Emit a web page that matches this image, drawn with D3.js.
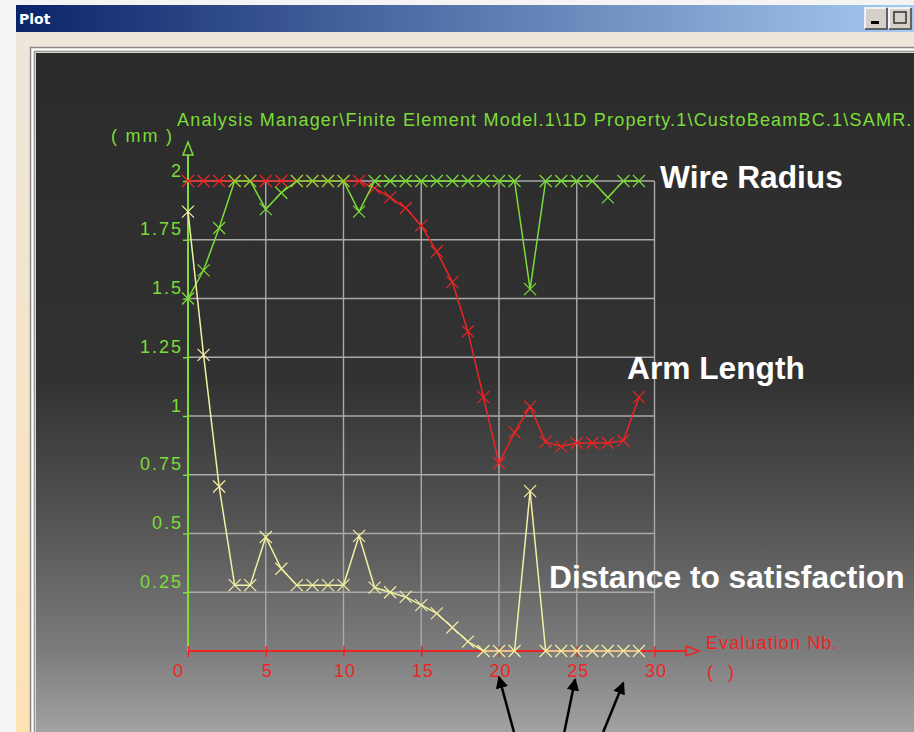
<!DOCTYPE html>
<html>
<head>
<meta charset="utf-8">
<script src="https://cdn.jsdelivr.net/npm/d3@7"></script>
<style>
  html, body { margin: 0; padding: 0; background: #f4f4f4; overflow: hidden; }
  svg { display: block; }
</style>
</head>
<body>
<svg id="chart" width="914" height="732"></svg>
<script>
// Optimisation history: one value per evaluation
const evaluations = d3.range(0, 30);
const wireRadius = [1.5, 1.62, 1.80, 2, 2, 1.88, 1.95, 2, 2, 2,
                    2, 1.87, 2, 2, 2, 2, 2, 2, 2, 2,
                    2, 2, 1.54, 2, 2, 2, 2, 1.93, 2, 2];
const armLength = [2, 2, 2, 2, 2, 2, 2, 2, 2, 2,
                   2, 2, 1.97, 1.93, 1.885, 1.81, 1.70, 1.57, 1.36, 1.08,
                   0.80, 0.93, 1.04, 0.89, 0.87, 0.885, 0.885, 0.885, 0.895, 1.08];
const distanceToSatisfaction = [1.87, 1.26, 0.70, 0.28, 0.28, 0.485, 0.35, 0.28, 0.28, 0.28,
                                0.28, 0.49, 0.27, 0.25, 0.23, 0.195, 0.16, 0.10, 0.04, 0,
                                0, 0, 0.68, 0, 0, 0, 0, 0, 0, 0];
const xTicks = [0, 5, 10, 15, 20, 25, 30];
const yTicks = [0.25, 0.5, 0.75, 1, 1.25, 1.5, 1.75, 2];
const yTickLabels = ["0.25", "0.5", "0.75", "1", "1.25", "1.5", "1.75", "2"];
const seriesNames = ["Wire Radius", "Arm Length", "Distance to satisfaction"];
const windowTitle = "Plot";
const curvePath = "Analysis Manager\\Finite Element Model.1\\1D Property.1\\CustoBeamBC.1\\SAMR.";
const yUnit = "( mm )";
const xName = "Evaluation Nb.";
const xUnit = "( )";
// pointers below the axis, in data units: [tipX, tipY, tailX, tailY]
const pointers = [[20, -0.11, 20.96, -0.345], [24.9, -0.12, 24.2, -0.345], [28.0, -0.135, 26.7, -0.345]];

const svg = d3.select("#chart");
const W = 914, H = 732;
const defs = svg.append("defs");

// ---------- window frame ----------
const tb = defs.append("linearGradient").attr("id", "titlebar");
tb.append("stop").attr("offset", "0%").attr("stop-color", "#0a246a");
tb.append("stop").attr("offset", "100%").attr("stop-color", "#a6caf0");

const side = defs.append("linearGradient").attr("id", "sidefill").attr("x1", 0).attr("y1", 0).attr("x2", 0).attr("y2", 1);
side.append("stop").attr("offset", "0%").attr("stop-color", "#ece6dc");
side.append("stop").attr("offset", "100%").attr("stop-color", "#fde2b4");

const bg = defs.append("linearGradient").attr("id", "plotbg").attr("x1", 0).attr("y1", 0).attr("x2", 0).attr("y2", 1);
[[0, "#2b2b2b"], [0.48, "#323232"], [0.68, "#525252"], [0.88, "#7c7c7c"], [1, "#a2a2a2"]]
  .forEach(([o, c]) => bg.append("stop").attr("offset", o).attr("stop-color", c));

svg.append("rect").attr("x", 0).attr("y", 0).attr("width", W).attr("height", H).attr("fill", "#f4f4f4");
svg.append("rect").attr("x", 16).attr("y", 32).attr("width", W - 16).attr("height", H - 32).attr("fill", "url(#sidefill)");
svg.append("rect").attr("x", 16).attr("y", 5).attr("width", W - 16).attr("height", 27).attr("fill", "url(#titlebar)");
svg.append("text").attr("x", 19).attr("y", 24).text(windowTitle)
  .attr("fill", "#ffffff").attr("font-family", "Tahoma, 'DejaVu Sans', sans-serif")
  .attr("font-weight", "bold").attr("font-size", 14);

// title bar buttons
function winButton(x, kind) {
  const g = svg.append("g").attr("transform", `translate(${x},8)`);
  g.append("rect").attr("width", 22).attr("height", 21).attr("fill", "#d4d0c8");
  g.append("path").attr("d", "M0,21V0H22").attr("fill", "none").attr("stroke", "#ffffff").attr("stroke-width", 1.5);
  g.append("path").attr("d", "M0,21H22V0").attr("fill", "none").attr("stroke", "#404040").attr("stroke-width", 1.5);
  if (kind === "min") g.append("rect").attr("x", 6).attr("y", 13).attr("width", 8).attr("height", 3).attr("fill", "#000");
  else g.append("rect").attr("x", 5).attr("y", 4).attr("width", 12).attr("height", 11).attr("fill", "none").attr("stroke", "#303030").attr("stroke-width", 1.5);
}
winButton(865, "min");
winButton(889, "max");

// sunken panel border
svg.append("rect").attr("x", 30.5).attr("y", 47.5).attr("width", W).attr("height", H).attr("fill", "none").attr("stroke", "#8a8a8a").attr("stroke-width", 1.5);
svg.append("rect").attr("x", 32.5).attr("y", 49.5).attr("width", W).attr("height", H).attr("fill", "none").attr("stroke", "#ffffff").attr("stroke-width", 1.5);
svg.append("rect").attr("x", 34.5).attr("y", 51.5).attr("width", W).attr("height", H).attr("fill", "none").attr("stroke", "#9a9a9a").attr("stroke-width", 1.5);
svg.append("rect").attr("x", 36).attr("y", 53).attr("width", W - 36).attr("height", H - 53).attr("fill", "url(#plotbg)");

// ---------- chart ----------
const x = d3.scaleLinear().domain([0, 30]).range([188, 654.5]);
const y = d3.scaleLinear().domain([0, 2]).range([651, 181]);

const green = "#7cdc38", red = "#ee2424", yellow = "#f2f0a2", grid = "#aaaaaa";
const axisFont = "'Liberation Sans', Arial, sans-serif";

const plot = svg.append("g");

// grid
plot.append("g").selectAll("line").data(yTicks).join("line")
  .attr("x1", x(0)).attr("x2", x(30))
  .attr("y1", d => y(d)).attr("y2", d => y(d))
  .attr("stroke", grid).attr("stroke-width", 1.4);
plot.append("g").selectAll("line").data(xTicks.filter(d => d > 0)).join("line")
  .attr("x1", d => x(d)).attr("x2", d => x(d))
  .attr("y1", y(0)).attr("y2", y(2))
  .attr("stroke", grid).attr("stroke-width", 1.4);

// y axis (green) with open arrow head
const yAxis = d3.axisLeft(y).tickValues(yTicks).tickSize(5).tickFormat((d, i) => yTickLabels[i]);
const gy = plot.append("g").attr("transform", `translate(${x(0)},0)`).call(yAxis);
gy.select(".domain").remove();
gy.selectAll(".tick line").attr("stroke", green).attr("stroke-width", 1.5);
gy.selectAll(".tick text").attr("fill", green).attr("font-family", axisFont)
  .attr("font-size", 18).attr("letter-spacing", 2)
  .attr("x", -5).attr("dy", null).attr("y", -5);
plot.append("line").attr("x1", x(0)).attr("x2", x(0)).attr("y1", y(0)).attr("y2", 155)
  .attr("stroke", green).attr("stroke-width", 2);
plot.append("path").attr("d", `M${x(0) - 5},155L${x(0)},142L${x(0) + 5},155Z`)
  .attr("fill", "none").attr("stroke", green).attr("stroke-width", 1.5);

// x axis (red) with open arrow head
const xAxis = d3.axisBottom(x).tickValues(xTicks).tickSize(6);
const gx = plot.append("g").attr("transform", `translate(0,${y(0)})`).call(xAxis);
gx.select(".domain").remove();
gx.selectAll(".tick line").attr("stroke", red).attr("stroke-width", 1.5).attr("y1", -5);
gx.selectAll(".tick text").attr("fill", red).attr("font-family", axisFont)
  .attr("font-size", 18).attr("letter-spacing", 1).attr("dy", null).attr("y", 26)
  .attr("dx", d => d === 0 ? -10 : 1);
plot.append("line").attr("x1", x(0)).attr("x2", 686).attr("y1", y(0)).attr("y2", y(0))
  .attr("stroke", red).attr("stroke-width", 2.2);
plot.append("path").attr("d", `M686,${y(0) - 5}L699,${y(0)}L686,${y(0) + 5}Z`)
  .attr("fill", "none").attr("stroke", red).attr("stroke-width", 1.5);

// axis captions
const caption = (tx, ty, t, c, ls) => plot.append("text").attr("x", tx).attr("y", ty).text(t)
  .attr("fill", c).attr("font-family", axisFont).attr("font-size", 18).attr("letter-spacing", ls);
caption(177, 126, curvePath, green, 1.2);
caption(111, 142, yUnit, green, 1.8);
caption(706, 649, xName, red, 1.1);
caption(707, 678, xUnit, red, 5);

// series
function drawSeries(values, color) {
  const pts = values.map((v, i) => [evaluations[i], v]);
  plot.append("path").datum(pts)
    .attr("d", d3.line().x(d => x(d[0])).y(d => y(d[1])))
    .attr("fill", "none").attr("stroke", color).attr("stroke-width", 1.5);
  plot.append("g").selectAll("path").data(pts).join("path")
    .attr("transform", d => `translate(${x(d[0])},${y(d[1])})`)
    .attr("d", "M-6,-6L6,6M-6,6L6,-6")
    .attr("fill", "none").attr("stroke", color).attr("stroke-width", 1.2);
}
drawSeries(armLength, red);
drawSeries(wireRadius, green);
drawSeries(distanceToSatisfaction, yellow);

// series names
const nameFont = "'Liberation Sans', Arial, sans-serif";
const namePos = [[660, 188], [627, 379], [549, 588]];
svg.append("g").selectAll("text").data(seriesNames).join("text")
  .attr("x", (d, i) => namePos[i][0]).attr("y", (d, i) => namePos[i][1])
  .text(d => d)
  .attr("fill", "#ffffff").attr("font-family", nameFont)
  .attr("font-weight", "bold").attr("font-size", 31.7);

// pointer arrows
defs.append("marker").attr("id", "tip").attr("viewBox", "0 0 10 10")
  .attr("refX", 9).attr("refY", 5).attr("markerWidth", 5).attr("markerHeight", 5)
  .attr("markerUnits", "strokeWidth").attr("orient", "auto")
  .append("path").attr("d", "M0,0L10,5L0,10Z").attr("fill", "#000");
svg.append("g").selectAll("line").data(pointers).join("line")
  .attr("x1", d => x(d[2])).attr("y1", d => y(d[3]))
  .attr("x2", d => x(d[0])).attr("y2", d => y(d[1]))
  .attr("stroke", "#000").attr("stroke-width", 2.5)
  .attr("marker-end", "url(#tip)");
</script>
</body>
</html>
